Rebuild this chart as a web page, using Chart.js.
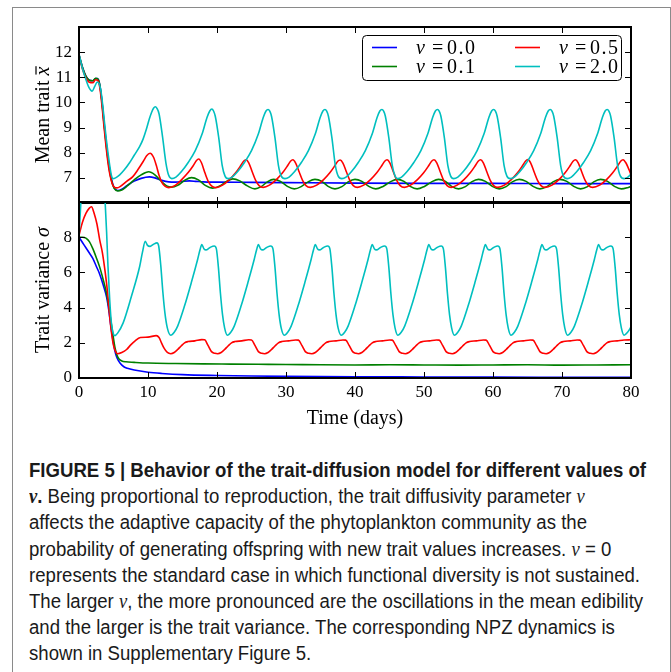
<!DOCTYPE html>
<html>
<head>
<meta charset="utf-8">
<script src="https://cdn.jsdelivr.net/npm/chart.js@4.4.1/dist/chart.umd.min.js"></script>
<style>
  html, body { margin:0; padding:0; background:#fff; }
  body { width:671px; height:672px; position:relative; overflow:hidden; }
  #frame { position:absolute; left:12px; top:7px; width:659px; height:700px; box-sizing:border-box; border:1px solid #8a8a8a; }
  canvas { position:absolute; left:0; }
  #c1 { top:0; }
  #c2 { top:182px; }
  #caption { position:absolute; left:29px; top:457px; font-family:'Liberation Sans',Arial,sans-serif; font-size:20px; line-height:26.2px; white-space:nowrap; color:#1a1a1a; transform:scaleX(0.93); transform-origin:0 0; }
  #caption .m { font-family:'Liberation Serif','Times New Roman',serif; font-style:italic; }
</style>
</head>
<body>
<div id="frame"></div>
<canvas id="c1" width="671" height="223"></canvas>
<canvas id="c2" width="671" height="252"></canvas>
<div id="caption">
<b>FIGURE 5 | Behavior of the trait-diffusion model for different values of</b><br>
<b><span class="m">ν</span>.</b> Being proportional to reproduction, the trait diffusivity parameter <span class="m">ν</span><br>
affects the adaptive capacity of the phytoplankton community as the<br>
probability of generating offspring with new trait values increases. <span class="m">ν</span> = 0<br>
represents the standard case in which functional diversity is not sustained.<br>
The larger <span class="m">ν</span>, the more pronounced are the oscillations in the mean edibility<br>
and the larger is the trait variance. The corresponding NPZ dynamics is<br>
shown in Supplementary Figure 5.
</div>
<script>
// ---------- DATA: [time (days), value] ----------
const seriesLabels = ['ν = 0.0', 'ν = 0.1', 'ν = 0.5', 'ν = 2.0'];
const seriesColors = ['#0000ff', '#008000', '#ff0000', '#00bfbf'];
const xTicks = [0, 10, 20, 30, 40, 50, 60, 70, 80];
const meanTicks = [7, 8, 9, 10, 11, 12];
const varTicks = [0, 2, 4, 6, 8];

// Mean trait x̄
const meanNu00 = [[0,11.9],[0.5,11.4],[1,11.05],[1.5,10.88],[2,10.86],[2.4,10.95],[2.7,10.95],[3,10.72],[3.3,10.12],[3.6,9.3],[3.9,8.5],[4.2,7.8],[4.5,7.25],[4.8,6.85],[5.1,6.6],[5.6,6.5],[6.2,6.55],[7,6.7],[8,6.87],[9,6.98],[10.2,7.04],[11,7.0],[12,6.9],[13,6.84],[14,6.83],[15,6.86],[16,6.88],[17,6.86],[18,6.84],[20,6.83],[25,6.82],[30,6.81],[40,6.79],[50,6.78],[60,6.78],[70,6.77],[80,6.77]];

const meanNu01 = [[0,11.9],[0.5,11.4],[1,11.05],[1.5,10.88],[2,10.86],[2.4,10.96],[2.7,10.94],[3,10.72],[3.3,10.08],[3.6,9.22],[3.9,8.42],[4.2,7.72],[4.5,7.17],[4.8,6.8],[5.1,6.58],[5.6,6.48],[6.2,6.52],[7,6.68],[8,6.92],[9,7.12],[10.1,7.24],[11,7.12],[12,6.84],[12.7,6.68],[13.4,6.63],[14.3,6.7],[15.3,6.9],[16.3,7.01],[17.3,6.92],[18.3,6.7],[19.4,6.59],[20.4,6.68],[21.4,6.86],[22.3,6.96],[23.3,6.88],[24.4,6.68],[25.5,6.56],[26.4,6.65],[27.3,6.84],[28.2,6.94],[29.2,6.86],[30.2,6.66],[31.2,6.56],[32.2,6.65],[33.2,6.84],[34.2,6.94],[35.2,6.86],[36.1,6.66],[37.1,6.56],[38.1,6.65],[39,6.84],[40,6.94],[41,6.86],[42,6.66],[43,6.56],[44,6.65],[45.1,6.84],[46.1,6.94],[47.1,6.86],[48,6.66],[49,6.56],[50,6.65],[51.1,6.84],[52.1,6.94],[53.1,6.86],[54,6.66],[55,6.56],[56,6.65],[56.9,6.84],[57.9,6.94],[58.9,6.86],[59.9,6.66],[60.9,6.56],[61.9,6.65],[62.8,6.84],[63.8,6.94],[64.8,6.86],[65.8,6.66],[66.8,6.56],[67.8,6.65],[68.7,6.84],[69.7,6.94],[70.7,6.86],[71.7,6.66],[72.7,6.56],[73.7,6.65],[74.6,6.84],[75.6,6.94],[76.6,6.86],[77.6,6.66],[78.6,6.56],[79.6,6.62],[80,6.66]];

const meanNu05 = [[0,11.88],[0.5,11.33],[1,10.98],[1.5,10.8],[2,10.78],[2.4,10.9],[2.7,10.88],[3,10.62],[3.3,9.95],[3.6,9.1],[3.9,8.3],[4.2,7.6],[4.5,7.1],[4.8,6.78],[5.1,6.63],[5.5,6.6],[6,6.66],[7,6.88],[7.8,7.05],[8.6,7.35],[9.3,7.65],[9.8,7.88],[10.3,7.98],[10.8,7.82],[11.2,7.5],[11.6,7.1],[12,6.82],[12.5,6.66],[13,6.61],
[13.95,6.7],[14.95,6.95],[15.85,7.22],[16.55,7.48],[17,7.68],[17.35,7.75],[17.75,7.6],[18.25,7.2],[18.75,6.85],[19.25,6.67],[19.85,6.61],
[20.8,6.71],[21.8,6.93],[22.7,7.2],[23.4,7.47],[23.85,7.66],[24.2,7.72],[24.6,7.6],[25.1,7.24],[25.6,6.9],[26.1,6.69],[26.7,6.62],
[27.6,6.71],[28.6,6.93],[29.5,7.2],[30.2,7.47],[30.65,7.66],[31,7.72],[31.4,7.59],[31.9,7.24],[32.4,6.9],[32.9,6.69],[33.5,6.62],
[34.45,6.71],[35.45,6.93],[36.35,7.2],[37.05,7.47],[37.5,7.66],[37.85,7.71],[38.25,7.59],[38.75,7.24],[39.25,6.9],[39.75,6.69],[40.35,6.62],
[41.25,6.71],[42.25,6.93],[43.15,7.2],[43.85,7.47],[44.3,7.66],[44.65,7.72],[45.05,7.6],[45.55,7.24],[46.05,6.9],[46.55,6.69],[47.15,6.62],
[48.05,6.71],[49.05,6.93],[49.95,7.2],[50.65,7.47],[51.1,7.66],[51.45,7.72],[51.85,7.6],[52.35,7.24],[52.85,6.9],[53.35,6.69],[53.95,6.62],
[54.8,6.71],[55.8,6.93],[56.7,7.2],[57.4,7.47],[57.85,7.66],[58.2,7.72],[58.6,7.6],[59.1,7.24],[59.6,6.9],[60.1,6.69],[60.7,6.62],
[61.65,6.71],[62.65,6.93],[63.55,7.2],[64.25,7.47],[64.7,7.66],[65.05,7.73],[65.45,7.6],[65.95,7.24],[66.45,6.9],[66.95,6.69],[67.55,6.62],
[68.55,6.71],[69.55,6.93],[70.45,7.2],[71.15,7.47],[71.6,7.66],[71.95,7.72],[72.35,7.6],[72.85,7.24],[73.35,6.9],[73.85,6.69],[74.45,6.62],
[75.45,6.71],[76.45,6.93],[77.35,7.2],[78.05,7.47],[78.5,7.66],[78.85,7.72],[79.25,7.6],[79.75,7.3],[80,7.12]];

const meanNu20 = [[0,11.92],[0.5,11.35],[0.9,11.0],[1.4,10.62],[1.9,10.45],[2.3,10.65],[2.65,10.81],[2.95,10.72],[3.2,10.42],[3.45,9.85],[3.7,9.19],[3.95,8.55],[4.2,7.99],[4.45,7.5],[4.68,7.12],[4.9,6.97],[5.3,7.0],[5.9,7.12],[6.6,7.33],[7.3,7.59],[8,7.9],[8.8,8.25],[9.3,8.55],[9.75,8.92],[10.2,9.35],[10.5,9.59],[10.8,9.77],[11.06,9.83],[11.3,9.76],[11.6,9.55],[12.1,8.65],[12.6,7.59],[13,7.1],
[13.45,6.97],[14.05,7.03],[14.85,7.25],[15.85,7.62],[16.85,8.08],[17.85,8.75],[18.55,9.4],[18.95,9.66],[19.25,9.74],[19.5,9.66],[19.75,9.45],[20.25,8.6],[20.75,7.5],[21.15,7.08],
[21.6,6.97],[22.2,7.03],[23,7.25],[24,7.62],[25,8.08],[26,8.75],[26.7,9.4],[27.1,9.66],[27.4,9.72],[27.65,9.65],[27.9,9.45],[28.4,8.6],[28.9,7.5],[29.3,7.08],
[29.85,6.97],[30.45,7.03],[31.25,7.25],[32.25,7.62],[33.25,8.08],[34.25,8.75],[34.95,9.4],[35.35,9.66],[35.65,9.72],[35.9,9.65],[36.15,9.45],[36.65,8.6],[37.15,7.5],[37.55,7.08],
[38.1,6.97],[38.7,7.03],[39.5,7.25],[40.5,7.62],[41.5,8.08],[42.5,8.75],[43.2,9.4],[43.6,9.66],[43.9,9.72],[44.15,9.65],[44.4,9.45],[44.9,8.6],[45.4,7.5],[45.8,7.08],
[46.15,6.97],[46.75,7.03],[47.55,7.25],[48.55,7.62],[49.55,8.08],[50.55,8.75],[51.25,9.4],[51.65,9.66],[51.95,9.72],[52.2,9.65],[52.45,9.45],[52.95,8.6],[53.45,7.5],[53.85,7.08],
[54.3,6.97],[54.9,7.03],[55.7,7.25],[56.7,7.62],[57.7,8.08],[58.7,8.75],[59.4,9.4],[59.8,9.66],[60.1,9.72],[60.35,9.65],[60.6,9.45],[61.1,8.6],[61.6,7.5],[62,7.08],
[62.5,6.97],[63.1,7.03],[63.9,7.25],[64.9,7.62],[65.9,8.08],[66.9,8.75],[67.6,9.4],[68,9.66],[68.3,9.72],[68.55,9.65],[68.8,9.45],[69.3,8.6],[69.8,7.5],[70.2,7.08],
[70.75,6.97],[71.35,7.03],[72.15,7.25],[73.15,7.62],[74.15,8.08],[75.15,8.75],[75.85,9.4],[76.25,9.66],[76.55,9.72],[76.8,9.65],[77.05,9.45],[77.55,8.6],[78.05,7.5],[78.45,7.08],[79,6.97],[79.5,7.02],[80,7.15]];

// Trait variance σ
const varNu00 = [[0,8.0],[0.5,7.7],[1,7.4],[1.5,7.1],[2,6.8],[2.5,6.35],[3,5.9],[3.5,5.3],[4,4.6],[4.3,3.9],[4.6,3.0],[4.9,2.2],[5.2,1.55],[5.5,1.15],[6,0.82],[6.5,0.64],[7,0.55],[8,0.45],[10,0.33],[12,0.26],[15,0.19],[20,0.14],[25,0.11],[30,0.09],[40,0.07],[50,0.06],[60,0.05],[70,0.045],[80,0.04]];

const varNu01 = [[0,8.0],[0.5,8.0],[1,7.95],[1.5,7.75],[2,7.35],[2.5,6.85],[3,6.3],[3.5,5.6],[4,4.8],[4.3,4.1],[4.6,3.3],[4.9,2.5],[5.2,1.75],[5.5,1.3],[5.8,1.08],[6.2,0.97],[6.8,0.92],[8,0.89],[10,0.85],[14,0.82],[18,0.8],[22,0.79],[26,0.78],[30,0.77],[35,0.75],[40,0.74],[45,0.75],[50,0.74],[55,0.73],[60,0.74],[65,0.75],[70,0.73],[75,0.74],[80,0.75]];

const varNu05 = [[0,8.1],[0.5,8.85],[1,9.35],[1.5,9.65],[1.8,9.73],[2.2,9.35],[2.6,8.75],[3,7.85],[3.4,7.1],[3.8,6.0],[4.1,5.0],[4.4,3.7],[4.7,2.6],[5,1.85],[5.3,1.5],[5.6,1.38],[6.2,1.45],[6.9,1.62],[7.5,1.88],[8.1,2.1],[8.9,2.3],[10,2.32],[11.2,2.41],[11.6,2.3],[11.95,2.0],[12.35,1.68],[12.8,1.45],[13.3,1.38],
[13.8,1.45],[14.3,1.62],[14.8,1.82],[15.3,2.0],[15.8,2.07],[16.8,2.11],[17.8,2.18],[18.2,2.17],[18.7,1.85],[19.2,1.5],[19.7,1.4],
[20.1,1.38],[20.6,1.45],[21.1,1.62],[21.6,1.82],[22.1,2.0],[22.6,2.07],[23.6,2.11],[24.6,2.17],[25,2.16],[25.5,1.85],[26,1.5],[26.5,1.4],
[26.9,1.38],[27.4,1.45],[27.9,1.62],[28.4,1.82],[28.9,2.0],[29.4,2.07],[30.4,2.11],[31.4,2.16],[31.8,2.15],[32.3,1.85],[32.8,1.5],[33.3,1.4],
[33.75,1.38],[34.25,1.45],[34.75,1.62],[35.25,1.82],[35.75,2.0],[36.25,2.07],[37.25,2.11],[38.25,2.16],[38.65,2.15],[39.15,1.85],[39.65,1.5],[40.15,1.4],
[40.5,1.38],[41,1.45],[41.5,1.62],[42,1.82],[42.5,2.0],[43,2.07],[44,2.11],[45,2.16],[45.4,2.15],[45.9,1.85],[46.4,1.5],[46.9,1.4],
[47.3,1.38],[47.8,1.45],[48.3,1.62],[48.8,1.82],[49.3,2.0],[49.8,2.07],[50.8,2.11],[51.8,2.16],[52.2,2.15],[52.7,1.85],[53.2,1.5],[53.7,1.4],
[54.1,1.38],[54.6,1.45],[55.1,1.62],[55.6,1.82],[56.1,2.0],[56.6,2.07],[57.6,2.11],[58.6,2.16],[59,2.15],[59.5,1.85],[60,1.5],[60.5,1.4],
[60.9,1.38],[61.4,1.45],[61.9,1.62],[62.4,1.82],[62.9,2.0],[63.4,2.07],[64.4,2.11],[65.4,2.16],[65.8,2.15],[66.3,1.85],[66.8,1.5],[67.3,1.4],
[67.7,1.38],[68.2,1.45],[68.7,1.62],[69.2,1.82],[69.7,2.0],[70.2,2.07],[71.2,2.11],[72.2,2.16],[72.6,2.15],[73.1,1.85],[73.6,1.5],[74.1,1.4],
[74.5,1.38],[75,1.45],[75.5,1.62],[76,1.82],[76.5,2.0],[77,2.07],[78,2.11],[79,2.16],[80,2.17]];

const varNu20 = [[0,8.05],[0.15,9.1],[0.3,10.2],[0.6,11.8],[1,12.8],[2,13.2],[3,12.8],[3.5,11.5],[3.8,9.9],[4,8.3],[4.2,6.35],[4.45,4.45],[4.7,3.1],[4.95,2.55],[5.2,2.41],[5.6,2.55],[6.4,3.13],[7.6,4.64],[8.8,6.35],[9.2,7.15],[9.6,7.77],[9.9,7.55],[10.3,7.48],[10.8,7.6],[11.3,7.68],[11.55,7.5],[11.85,6.4],[12.15,4.9],[12.45,3.7],[12.8,2.85],[13.3,2.43],
[13.8,2.6],[14.3,2.95],[15.3,4.1],[16.3,5.45],[17.2,6.75],[17.55,7.3],[17.8,7.58],[18.1,7.35],[18.4,7.28],[19,7.42],[19.6,7.5],[19.9,7.35],[20.2,6.3],[20.5,4.8],[20.8,3.6],[21.1,2.85],
[21.5,2.43],[22,2.6],[22.5,2.95],[23.5,4.1],[24.5,5.45],[25.4,6.75],[25.75,7.3],[26,7.58],[26.3,7.35],[26.6,7.28],[27.2,7.42],[27.8,7.5],[28.1,7.35],[28.4,6.3],[28.7,4.8],[29,3.6],[29.3,2.85],
[29.75,2.43],[30.25,2.6],[30.75,2.95],[31.75,4.1],[32.75,5.45],[33.65,6.75],[34,7.3],[34.25,7.58],[34.55,7.35],[34.85,7.28],[35.45,7.42],[36.05,7.5],[36.35,7.35],[36.65,6.3],[36.95,4.8],[37.25,3.6],[37.55,2.85],
[38,2.43],[38.5,2.6],[39,2.95],[40,4.1],[41,5.45],[41.9,6.75],[42.25,7.3],[42.5,7.58],[42.8,7.35],[43.1,7.28],[43.7,7.42],[44.3,7.5],[44.6,7.35],[44.9,6.3],[45.2,4.8],[45.5,3.6],[45.8,2.85],
[46.2,2.43],[46.7,2.6],[47.2,2.95],[48.2,4.1],[49.2,5.45],[50.1,6.75],[50.45,7.3],[50.7,7.58],[51,7.35],[51.3,7.28],[51.9,7.42],[52.5,7.5],[52.8,7.35],[53.1,6.3],[53.4,4.8],[53.7,3.6],[54,2.85],
[54.4,2.43],[54.9,2.6],[55.4,2.95],[56.4,4.1],[57.4,5.45],[58.3,6.75],[58.65,7.3],[58.9,7.58],[59.2,7.35],[59.5,7.28],[60.1,7.42],[60.7,7.5],[61,7.35],[61.3,6.3],[61.6,4.8],[61.9,3.6],[62.2,2.85],
[62.6,2.43],[63.1,2.6],[63.6,2.95],[64.6,4.1],[65.6,5.45],[66.5,6.75],[66.85,7.3],[67.1,7.58],[67.4,7.35],[67.7,7.28],[68.3,7.42],[68.9,7.5],[69.2,7.35],[69.5,6.3],[69.8,4.8],[70.1,3.6],[70.4,2.85],
[70.8,2.43],[71.3,2.6],[71.8,2.95],[72.8,4.1],[73.8,5.45],[74.7,6.75],[75.05,7.3],[75.3,7.58],[75.6,7.35],[75.9,7.28],[76.5,7.42],[77.1,7.5],[77.4,7.35],[77.7,6.3],[78,4.8],[78.3,3.6],[78.6,2.85],[79,2.43],[79.5,2.6],[80,2.9]];

// ---------- RENDERING ----------
const SERIF = "'Liberation Serif','Times New Roman',serif";
Chart.defaults.font.family = SERIF;
Chart.defaults.color = '#000';

function makeDatasets(list) {
  const order = [4, 3, 2, 1];
  return list.map((s, i) => ({
    label: seriesLabels[i],
    data: s.map(p => ({x: p[0], y: p[1]})),
    borderColor: seriesColors[i],
    backgroundColor: seriesColors[i],
    borderWidth: 1.6,
    pointRadius: 0,
    cubicInterpolationMode: 'monotone',
    fill: false,
    clip: 0,
    order: order[i]
  }));
}

function drawTitle(ctx, cx, cy, parts, rotate) {
  ctx.save();
  ctx.translate(cx, cy);
  if (rotate) ctx.rotate(-Math.PI / 2);
  ctx.fillStyle = '#000';
  ctx.textBaseline = 'alphabetic';
  const size = 20;
  let total = 0;
  parts.forEach(p => { ctx.font = (p.italic ? 'italic ' : '') + size + 'px ' + SERIF; p.w = ctx.measureText(p.text).width; total += p.w; });
  let x = -total / 2;
  const base = size * 0.33;
  parts.forEach(p => {
    ctx.font = (p.italic ? 'italic ' : '') + size + 'px ' + SERIF;
    ctx.fillText(p.text, x, base);
    if (p.overline) {
      ctx.fillRect(x + 1, base - size * 0.66, p.w - 0.5, 1.2);
    }
    x += p.w;
  });
  ctx.restore();
}

const framePlugin = {
  id: 'frame',
  afterDatasetsDraw(chart, args, opts) {
    const {ctx, chartArea: a, scales: {x, y}} = chart;
    ctx.save();
    ctx.strokeStyle = '#000';
    ctx.lineWidth = 1;
    ctx.beginPath();
    const tl = 6;
    xTicks.forEach(v => {
      const px = Math.round(x.getPixelForValue(v)) + 0.5;
      ctx.moveTo(px, a.top); ctx.lineTo(px, a.top + tl);
      ctx.moveTo(px, a.bottom); ctx.lineTo(px, a.bottom - tl);
    });
    opts.yTicks.forEach(v => {
      const py = Math.round(y.getPixelForValue(v)) + 0.5;
      ctx.moveTo(a.left, py); ctx.lineTo(a.left + tl, py);
      ctx.moveTo(a.right, py); ctx.lineTo(a.right - tl, py);
    });
    ctx.stroke();
    ctx.lineWidth = 2;
    ctx.strokeRect(a.left, a.top, a.right - a.left, a.bottom - a.top);
    ctx.restore();
    if (opts.yTitle) drawTitle(ctx, opts.yTitle.x, (a.top + a.bottom) / 2, opts.yTitle.parts, true);
    if (opts.xTitle) drawTitle(ctx, (a.left + a.right) / 2, opts.xTitle.y, opts.xTitle.parts, false);
  }
};

const legendPlugin = {
  id: 'nuLegend',
  afterDraw(chart, args, opts) {
    if (!opts.show) return;
    const {ctx} = chart;
    const ds = chart.data.datasets;
    ctx.save();
    ctx.beginPath();
    ctx.roundRect(362.5, 35.5, 259, 45, 4);
    ctx.fillStyle = '#fff';
    ctx.fill();
    ctx.strokeStyle = '#000';
    ctx.lineWidth = 1;
    ctx.stroke();
    const lineX = [372, 515], textX = [416, 559], rowY = [47.5, 66.5];
    ds.forEach((d, i) => {
      const c = Math.floor(i / 2), r = i % 2;
      ctx.strokeStyle = d.borderColor;
      ctx.lineWidth = 1.6;
      ctx.beginPath();
      ctx.moveTo(lineX[c], rowY[r]);
      ctx.lineTo(lineX[c] + 25, rowY[r]);
      ctx.stroke();
      ctx.fillStyle = '#000';
      ctx.textBaseline = 'alphabetic';
      const nu = d.label.charAt(0);
      const rest = d.label.slice(1).replace('=', '').trim();
      ctx.font = 'italic 20px ' + SERIF;
      ctx.fillText(nu, textX[c], rowY[r] + 6);
      ctx.font = '20px ' + SERIF;
      ctx.fillText('=', textX[c] + 16, rowY[r] + 6);
      ctx.letterSpacing = '1.5px';
      ctx.fillText(rest, textX[c] + 31, rowY[r] + 6);
      ctx.letterSpacing = '0px';
    });
    ctx.restore();
  }
};

function xScale(showLabels, h) {
  return {
    type: 'linear', min: 0, max: 80,
    afterBuildTicks: s => { s.ticks = xTicks.map(v => ({value: v})); },
    ticks: { display: showLabels, font: {size: 17}, padding: 4, maxRotation: 0, autoSkip: false },
    grid: { display: false, drawTicks: false },
    border: { display: false },
    afterFit: s => { s.height = h; }
  };
}
function yScale(min, max, ticks) {
  return {
    type: 'linear', min: min, max: max,
    afterBuildTicks: s => { s.ticks = ticks.map(v => ({value: v})); },
    ticks: { font: {size: 17}, padding: 7, autoSkip: false },
    grid: { display: false, drawTicks: false },
    border: { display: false },
    afterFit: s => { s.width = 79; }
  };
}

new Chart(document.getElementById('c1'), {
  type: 'line',
  data: { datasets: makeDatasets([meanNu00, meanNu01, meanNu05, meanNu20]) },
  options: {
    responsive: false, animation: false, devicePixelRatio: 1,
    layout: { padding: {top: 27, right: 40, bottom: 20, left: 0} },
    scales: { x: xScale(false, 0), y: yScale(6, 13, meanTicks) },
    plugins: {
      legend: {display: false}, tooltip: {enabled: false},
      frame: { yTicks: meanTicks, yTitle: {x: 42, parts: [{text: 'Mean trait '}, {text: 'x', italic: true, overline: true}]} },
      nuLegend: { show: true }
    }
  },
  plugins: [framePlugin, legendPlugin]
});

new Chart(document.getElementById('c2'), {
  type: 'line',
  data: { datasets: makeDatasets([varNu00, varNu01, varNu05, varNu20]) },
  options: {
    responsive: false, animation: false, devicePixelRatio: 1,
    layout: { padding: {top: 20, right: 40, bottom: 0, left: 0} },
    scales: { x: xScale(true, 56), y: yScale(0, 10, varTicks) },
    plugins: {
      legend: {display: false}, tooltip: {enabled: false},
      frame: { yTicks: varTicks, yTitle: {x: 42, parts: [{text: 'Trait variance '}, {text: 'σ', italic: true}]}, xTitle: {y: 235, parts: [{text: 'Time (days)'}]} },
      nuLegend: { show: false }
    }
  },
  plugins: [framePlugin, legendPlugin]
});
</script>
</body>
</html>
